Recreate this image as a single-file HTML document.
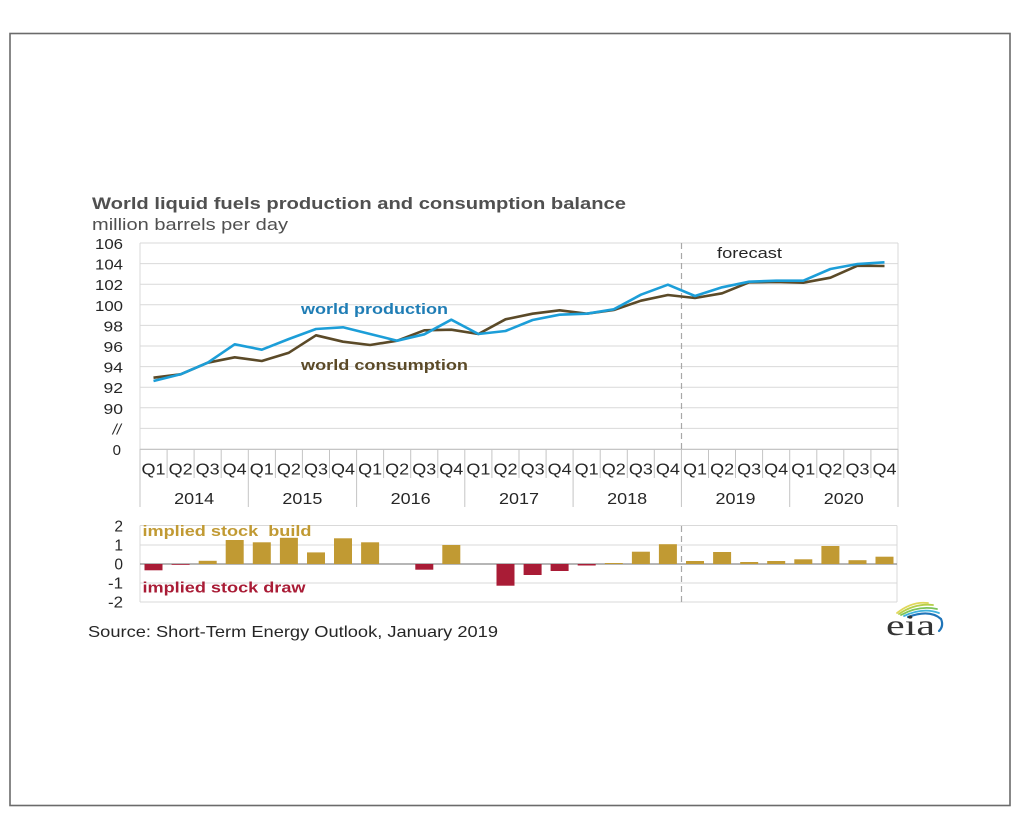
<!DOCTYPE html>
<html><head><meta charset="utf-8"><style>
html,body{margin:0;padding:0;background:#fff;}
svg{display:block;}
text{font-family:"Liberation Sans",Arial,sans-serif;}
</style></head><body>
<svg width="1024" height="817" viewBox="0 0 1024 817" xmlns="http://www.w3.org/2000/svg">
<rect x="0" y="0" width="1024" height="817" fill="#fff"/>
<rect x="10" y="33.5" width="1000" height="772" fill="none" stroke="#6b6b6b" stroke-width="1.6"/>

<!-- Title -->
<text x="92" y="209" font-size="17" font-weight="bold" fill="#505050" textLength="534" lengthAdjust="spacingAndGlyphs">World liquid fuels production and consumption balance</text>
<text x="92" y="230" font-size="17" fill="#505050" textLength="196" lengthAdjust="spacingAndGlyphs">million barrels per day</text>

<!-- Top chart grid -->
<g stroke="#d9d9d9" stroke-width="1">
<line x1="140" y1="243" x2="898" y2="243"/>
<line x1="140" y1="263.6" x2="898" y2="263.6"/>
<line x1="140" y1="284.2" x2="898" y2="284.2"/>
<line x1="140" y1="304.8" x2="898" y2="304.8"/>
<line x1="140" y1="325.4" x2="898" y2="325.4"/>
<line x1="140" y1="346" x2="898" y2="346"/>
<line x1="140" y1="366.6" x2="898" y2="366.6"/>
<line x1="140" y1="387.2" x2="898" y2="387.2"/>
<line x1="140" y1="407.8" x2="898" y2="407.8"/>
<line x1="140" y1="428.4" x2="898" y2="428.4"/>
<line x1="140" y1="243" x2="140" y2="449"/>
<line x1="898" y1="243" x2="898" y2="449"/>
</g>
<line x1="140" y1="449.3" x2="898" y2="449.3" stroke="#bdbdbd" stroke-width="1.2"/>
<line x1="681.5" y1="243" x2="681.5" y2="449" stroke="#a8a8a8" stroke-width="1.2" stroke-dasharray="6,4"/>

<!-- Y labels top -->
<g font-size="15" fill="#262626" text-anchor="end">
<text x="123" y="249" textLength="28" lengthAdjust="spacingAndGlyphs">106</text>
<text x="123" y="269.6" textLength="28" lengthAdjust="spacingAndGlyphs">104</text>
<text x="123" y="290.2" textLength="28" lengthAdjust="spacingAndGlyphs">102</text>
<text x="123" y="310.8" textLength="28" lengthAdjust="spacingAndGlyphs">100</text>
<text x="123" y="331.4" textLength="19.5" lengthAdjust="spacingAndGlyphs">98</text>
<text x="123" y="352" textLength="19.5" lengthAdjust="spacingAndGlyphs">96</text>
<text x="123" y="372.6" textLength="19.5" lengthAdjust="spacingAndGlyphs">94</text>
<text x="123" y="393.2" textLength="19.5" lengthAdjust="spacingAndGlyphs">92</text>
<text x="123" y="413.8" textLength="19.5" lengthAdjust="spacingAndGlyphs">90</text>
<text x="121" y="434.4" font-style="italic">//</text>
<text x="121" y="455">0</text>
</g>

<!-- Category separators -->
<g stroke="#c4c4c4" stroke-width="1">
<line x1="140" y1="449" x2="140" y2="507"/>
<line x1="167.1" y1="449" x2="167.1" y2="478"/>
<line x1="194.1" y1="449" x2="194.1" y2="478"/>
<line x1="221.2" y1="449" x2="221.2" y2="478"/>
<line x1="248.3" y1="449" x2="248.3" y2="507"/>
<line x1="275.4" y1="449" x2="275.4" y2="478"/>
<line x1="302.4" y1="449" x2="302.4" y2="478"/>
<line x1="329.5" y1="449" x2="329.5" y2="478"/>
<line x1="356.6" y1="449" x2="356.6" y2="507"/>
<line x1="383.6" y1="449" x2="383.6" y2="478"/>
<line x1="410.7" y1="449" x2="410.7" y2="478"/>
<line x1="437.8" y1="449" x2="437.8" y2="478"/>
<line x1="464.8" y1="449" x2="464.8" y2="507"/>
<line x1="491.9" y1="449" x2="491.9" y2="478"/>
<line x1="519" y1="449" x2="519" y2="478"/>
<line x1="546.1" y1="449" x2="546.1" y2="478"/>
<line x1="573.1" y1="449" x2="573.1" y2="507"/>
<line x1="600.2" y1="449" x2="600.2" y2="478"/>
<line x1="627.3" y1="449" x2="627.3" y2="478"/>
<line x1="654.3" y1="449" x2="654.3" y2="478"/>
<line x1="681.4" y1="449" x2="681.4" y2="507"/>
<line x1="708.5" y1="449" x2="708.5" y2="478"/>
<line x1="735.5" y1="449" x2="735.5" y2="478"/>
<line x1="762.6" y1="449" x2="762.6" y2="478"/>
<line x1="789.7" y1="449" x2="789.7" y2="507"/>
<line x1="816.8" y1="449" x2="816.8" y2="478"/>
<line x1="843.8" y1="449" x2="843.8" y2="478"/>
<line x1="870.9" y1="449" x2="870.9" y2="478"/>
<line x1="898" y1="449" x2="898" y2="507"/>
</g>

<!-- Q labels -->
<g font-size="15.5" fill="#262626" text-anchor="middle">
<text x="153.5" y="474.5" textLength="24" lengthAdjust="spacingAndGlyphs">Q1</text>
<text x="180.6" y="474.5" textLength="24" lengthAdjust="spacingAndGlyphs">Q2</text>
<text x="207.7" y="474.5" textLength="24" lengthAdjust="spacingAndGlyphs">Q3</text>
<text x="234.7" y="474.5" textLength="24" lengthAdjust="spacingAndGlyphs">Q4</text>
<text x="261.8" y="474.5" textLength="24" lengthAdjust="spacingAndGlyphs">Q1</text>
<text x="288.9" y="474.5" textLength="24" lengthAdjust="spacingAndGlyphs">Q2</text>
<text x="316.0" y="474.5" textLength="24" lengthAdjust="spacingAndGlyphs">Q3</text>
<text x="343.0" y="474.5" textLength="24" lengthAdjust="spacingAndGlyphs">Q4</text>
<text x="370.1" y="474.5" textLength="24" lengthAdjust="spacingAndGlyphs">Q1</text>
<text x="397.2" y="474.5" textLength="24" lengthAdjust="spacingAndGlyphs">Q2</text>
<text x="424.3" y="474.5" textLength="24" lengthAdjust="spacingAndGlyphs">Q3</text>
<text x="451.3" y="474.5" textLength="24" lengthAdjust="spacingAndGlyphs">Q4</text>
<text x="478.4" y="474.5" textLength="24" lengthAdjust="spacingAndGlyphs">Q1</text>
<text x="505.5" y="474.5" textLength="24" lengthAdjust="spacingAndGlyphs">Q2</text>
<text x="532.6" y="474.5" textLength="24" lengthAdjust="spacingAndGlyphs">Q3</text>
<text x="559.6" y="474.5" textLength="24" lengthAdjust="spacingAndGlyphs">Q4</text>
<text x="586.7" y="474.5" textLength="24" lengthAdjust="spacingAndGlyphs">Q1</text>
<text x="613.8" y="474.5" textLength="24" lengthAdjust="spacingAndGlyphs">Q2</text>
<text x="640.9" y="474.5" textLength="24" lengthAdjust="spacingAndGlyphs">Q3</text>
<text x="667.9" y="474.5" textLength="24" lengthAdjust="spacingAndGlyphs">Q4</text>
<text x="695.0" y="474.5" textLength="24" lengthAdjust="spacingAndGlyphs">Q1</text>
<text x="722.1" y="474.5" textLength="24" lengthAdjust="spacingAndGlyphs">Q2</text>
<text x="749.2" y="474.5" textLength="24" lengthAdjust="spacingAndGlyphs">Q3</text>
<text x="776.2" y="474.5" textLength="24" lengthAdjust="spacingAndGlyphs">Q4</text>
<text x="803.3" y="474.5" textLength="24" lengthAdjust="spacingAndGlyphs">Q1</text>
<text x="830.4" y="474.5" textLength="24" lengthAdjust="spacingAndGlyphs">Q2</text>
<text x="857.5" y="474.5" textLength="24" lengthAdjust="spacingAndGlyphs">Q3</text>
<text x="884.5" y="474.5" textLength="24" lengthAdjust="spacingAndGlyphs">Q4</text>
</g>
<!-- Years -->
<g font-size="16" fill="#262626" text-anchor="middle">
<text x="194.1" y="504" textLength="40" lengthAdjust="spacingAndGlyphs">2014</text>
<text x="302.4" y="504" textLength="40" lengthAdjust="spacingAndGlyphs">2015</text>
<text x="410.7" y="504" textLength="40" lengthAdjust="spacingAndGlyphs">2016</text>
<text x="519.0" y="504" textLength="40" lengthAdjust="spacingAndGlyphs">2017</text>
<text x="627.2" y="504" textLength="40" lengthAdjust="spacingAndGlyphs">2018</text>
<text x="735.5" y="504" textLength="40" lengthAdjust="spacingAndGlyphs">2019</text>
<text x="843.8" y="504" textLength="40" lengthAdjust="spacingAndGlyphs">2020</text>
</g>

<!-- Lines -->
<polyline fill="none" stroke="#5b4a28" stroke-width="2.6" stroke-linejoin="round" points="153.5,377.7 180.6,374.3 207.7,362.7 234.7,357.3 261.8,361 288.9,352.7 316.0,335.3 343.0,341.7 370.1,345 397.2,340.7 424.3,330.3 451.3,329.7 478.4,334 505.5,319.3 532.6,313.7 559.6,310.3 586.7,313.7 613.8,310 640.9,300.7 667.9,295 695.0,298 722.1,293.3 749.2,282.3 776.2,282 803.3,282.7 830.4,277.7 857.5,265.7 884.5,266"/>
<polyline fill="none" stroke="#1c9ed8" stroke-width="2.6" stroke-linejoin="round" points="153.5,381 180.6,374.3 207.7,362.7 234.7,344.3 261.8,349.7 288.9,339 316.0,329 343.0,327.3 370.1,334 397.2,340.7 424.3,334.3 451.3,319.7 478.4,334 505.5,331 532.6,320 559.6,314.7 586.7,313.7 613.8,309.3 640.9,294.7 667.9,284.7 695.0,296 722.1,287.3 749.2,281.7 776.2,280.7 803.3,280.7 830.4,269 857.5,264 884.5,262.3"/>

<text x="301" y="314" font-size="15" font-weight="bold" fill="#1f7db5" textLength="147" lengthAdjust="spacingAndGlyphs">world production</text>
<text x="301" y="370" font-size="15" font-weight="bold" fill="#5b4a28" textLength="167" lengthAdjust="spacingAndGlyphs">world consumption</text>
<text x="717" y="258" font-size="15" fill="#262626" textLength="65" lengthAdjust="spacingAndGlyphs">forecast</text>

<!-- Bottom chart -->
<g stroke="#d9d9d9" stroke-width="1">
<line x1="140" y1="525.5" x2="897" y2="525.5"/>
<line x1="140" y1="545" x2="897" y2="545"/>
<line x1="140" y1="583" x2="897" y2="583"/>
<line x1="140" y1="602" x2="897" y2="602"/>
<line x1="140" y1="525.5" x2="140" y2="602"/>
<line x1="897" y1="525.5" x2="897" y2="602"/>
</g>
<line x1="681.5" y1="526" x2="681.5" y2="602" stroke="#a8a8a8" stroke-width="1.2" stroke-dasharray="6,4"/>
<line x1="140" y1="564" x2="897" y2="564" stroke="#8a8a8a" stroke-width="1.2"/>

<g fill="#c19a33">
<rect x="198.7" y="560.8" width="18" height="3.2"/>
<rect x="225.7" y="540" width="18" height="24"/>
<rect x="252.8" y="542.3" width="18" height="21.7"/>
<rect x="279.9" y="537.8" width="18" height="26.2"/>
<rect x="307" y="552.4" width="18" height="11.6"/>
<rect x="334" y="538.3" width="18" height="25.7"/>
<rect x="361.1" y="542.3" width="18" height="21.7"/>
<rect x="442.3" y="545" width="18" height="19"/>
<rect x="604.8" y="563" width="18" height="1"/>
<rect x="631.9" y="551.7" width="18" height="12.3"/>
<rect x="658.9" y="544.2" width="18" height="19.8"/>
<rect x="686" y="561" width="18" height="3"/>
<rect x="713.1" y="552" width="18" height="12"/>
<rect x="740.2" y="562" width="18" height="2"/>
<rect x="767.2" y="561" width="18" height="3"/>
<rect x="794.3" y="559.3" width="18" height="4.7"/>
<rect x="821.4" y="546" width="18" height="18"/>
<rect x="848.5" y="560.2" width="18" height="3.8"/>
<rect x="875.5" y="556.7" width="18" height="7.3"/>
</g>
<g fill="#a91c36">
<rect x="144.5" y="564" width="18" height="6.3"/>
<rect x="171.6" y="564" width="18" height="0.8"/>
<rect x="415.3" y="564" width="18" height="5.7"/>
<rect x="496.5" y="564" width="18" height="21.7"/>
<rect x="523.6" y="564" width="18" height="11"/>
<rect x="550.6" y="564" width="18" height="7"/>
<rect x="577.7" y="564" width="18" height="1.5"/>
</g>

<g font-size="15.5" fill="#262626" text-anchor="end">
<text x="123" y="531.5">2</text>
<text x="123" y="550.5">1</text>
<text x="123" y="569.5">0</text>
<text x="123" y="588.5" textLength="15" lengthAdjust="spacingAndGlyphs">-1</text>
<text x="123" y="607.5" textLength="15" lengthAdjust="spacingAndGlyphs">-2</text>
</g>

<text x="142.5" y="536" font-size="15" font-weight="bold" fill="#c19a33" textLength="169" lengthAdjust="spacingAndGlyphs">implied stock&#160; build</text>
<text x="142.5" y="592.5" font-size="15" font-weight="bold" fill="#a91c36" textLength="163" lengthAdjust="spacingAndGlyphs">implied stock draw</text>

<text x="88" y="637" font-size="16" fill="#262626" textLength="410" lengthAdjust="spacingAndGlyphs">Source: Short-Term Energy Outlook, January 2019</text>

<!-- eia logo -->
<g fill="none" stroke-linecap="round">
<path d="M897,613 Q912,601 928,603" stroke="#e0d75a" stroke-width="1.8"/>
<path d="M899,614 Q915,603 933,605" stroke="#b5cf4a" stroke-width="1.8"/>
<path d="M901,615 Q919,605 937,609" stroke="#7cc35a" stroke-width="1.8"/>
<path d="M904,616 Q923,607 939,613" stroke="#3fb2de" stroke-width="1.8"/>
<path d="M908,617 Q930,609 941,619 Q944,626 939,631" stroke="#1f74b8" stroke-width="2.2"/>
</g>
<text x="886" y="635" font-size="30" fill="#333" textLength="49" lengthAdjust="spacingAndGlyphs" style="font-family:'Liberation Serif',serif">eia</text>
</svg>
</body></html>
